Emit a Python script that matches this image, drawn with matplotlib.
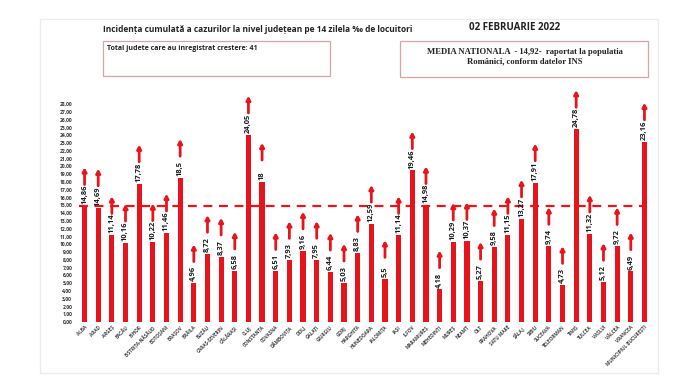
import matplotlib
matplotlib.use("Agg")
import matplotlib.pyplot as plt
from matplotlib.patches import Rectangle

plt.rcParams['font.family'] = ['Open Sans', 'DejaVu Sans']

judete = ['ALBA', 'ARAD', 'ARGEȘ', 'BACĂU', 'BIHOR', 'BISTRIȚA-NĂSĂUD', 'BOTOȘANI',
          'BRAȘOV', 'BRĂILA', 'BUZĂU', 'CARAȘ-SEVERIN', 'CĂLĂRAȘI', 'CLUJ', 'CONSTANȚA',
          'COVASNA', 'DÂMBOVIȚA', 'DOLJ', 'GALAȚI', 'GIURGIU', 'GORJ', 'HARGHITA',
          'HUNEDOARA', 'IALOMIȚA', 'IAȘI', 'ILFOV', 'MARAMUREȘ', 'MEHEDINȚI', 'MUREȘ',
          'NEAMȚ', 'OLT', 'PRAHOVA', 'SATU MARE', 'SĂLAJ', 'SIBIU', 'SUCEAVA',
          'TELEORMAN', 'TIMIȘ', 'TULCEA', 'VASLUI', 'VÂLCEA', 'VRANCEA',
          'MUNICIPIUL BUCUREȘTI']
incidenta = [14.86, 14.69, 11.14, 10.16, 17.78, 10.22, 11.46, 18.5, 4.96, 8.72, 8.37,
             6.58, 24.05, 18, 6.51, 7.93, 9.16, 7.95, 6.44, 5.03, 8.83, 12.59, 5.5,
             11.14, 19.46, 14.98, 4.18, 10.29, 10.37, 5.27, 9.58, 11.15, 13.27, 17.91,
             9.74, 4.73, 24.78, 11.32, 5.12, 9.72, 6.49, 23.16]
media_nationala = 14.92
y_ticks = list(range(0, 29))

RED = '#e8141b'

fig = plt.figure(figsize=(7, 3.89), dpi=100)

# frame around the picture
fig.patches.append(Rectangle((40 / 700, 1 - 373 / 389), 618 / 700, 354 / 389,
                             transform=fig.transFigure, fill=False,
                             edgecolor='#ececec', lw=1))

ax = fig.add_axes([75 / 700, 1 - 322 / 389, 579 / 700, 218 / 389])
x = list(range(len(judete)))
ax.bar(x, incidenta, width=0.38, color=RED, zorder=2)
ax.hlines(media_nationala, -0.4, len(judete) - 1, colors=RED, lw=1.6,
          linestyles=(0, (4, 3)), zorder=3)

for i, v in enumerate(incidenta):
    ax.text(i, v + 0.25, f"{v:g}".replace('.', ','), rotation=90, ha='center',
            va='bottom', fontsize=5.4, fontweight='bold', color='#1a1a1a', zorder=4)
    ax.annotate('', xy=(i, v + 5.0), xytext=(i, v + 2.8),
                arrowprops=dict(arrowstyle='-|>,head_width=0.12,head_length=0.22',
                                color=RED, lw=2.0, shrinkA=0, shrinkB=0),
                annotation_clip=False, zorder=4)

ax.set_xlim(-0.7, len(judete) - 0.3)
ax.set_ylim(0, 28)
ax.set_yticks(y_ticks)
ax.set_yticklabels([f"{t:.2f}".replace('.', ',') for t in y_ticks],
                   fontsize=3.6, fontweight='bold', color='#333333')
ax.set_xticks(x)
ax.set_xticklabels(judete, rotation=45, ha='right', rotation_mode='anchor',
                   fontsize=3.4, fontweight='bold', color='#444444')
ax.tick_params(length=0, pad=2)
for s in ax.spines.values():
    s.set_visible(False)

# titles
fig.text(103 / 700, 1 - 30 / 389,
         'Incidența cumulată a cazurilor la nivel județean pe 14 zilela ‰ de locuitori',
         fontsize=6.0, fontweight='bold', color='#222222', va='center')
fig.text(515 / 700, 1 - 28 / 389, '02 FEBRUARIE 2022', fontsize=7,
         fontweight='bold', color='#222222', ha='center', va='center')

# info boxes
fig.patches.append(Rectangle((103 / 700, 1 - 76 / 389), 227 / 700, 35 / 389,
                             transform=fig.transFigure, fill=False,
                             edgecolor='#d4a5a5', lw=0.9))
fig.text(107 / 700, 1 - 48 / 389, 'Total judete care au inregistrat crestere: 41',
         fontsize=5, fontweight='bold', color='#222222', va='center')

fig.patches.append(Rectangle((400 / 700, 1 - 77 / 389), 248 / 700, 36 / 389,
                             transform=fig.transFigure, fill=False,
                             edgecolor='#d4a5a5', lw=0.9))
fig.text(525 / 700, 1 - 57 / 389,
         'MEDIA NATIONALA  - 14,92-  raportat la populatia\nRomânici, conform datelor INS',
         fontsize=6.2, fontweight='bold', family='Liberation Serif', color='#222222',
         ha='center', va='center', linespacing=1.3)

fig.savefig('out.png', dpi=100)
